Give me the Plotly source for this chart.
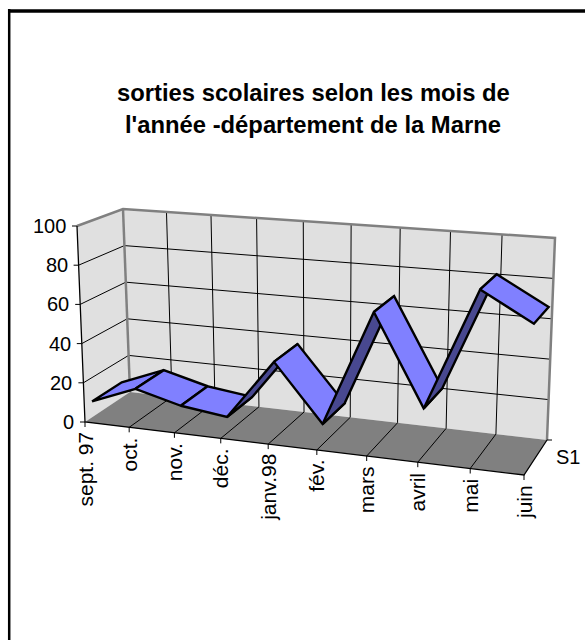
import plotly.graph_objects as go

categories = ["sept. 97", "oct.", "nov.", "déc.", "janv.98", "fév.", "mars", "avril", "mai", "juin"]
values = [8, 17, 11, 8, 38, 10, 67, 23, 82, 68]
value_ticks = [0, 20, 40, 60, 80, 100]
series_name = "S1"
title_lines = ["sorties scolaires selon les mois de", "l'année -département de la Marne"]

FONT = "Liberation Sans"
WALL = "#E0E0E0"
FLOOR = "#808080"
EDGE = "#808080"
LIGHT = "#8080FF"
DARK = "#484890"

# Screen corners of the 3D box: (front/back, bottom/top)
LFB = (85, 422); LFT = (77, 226); LBB = (130, 392); LBT = (123, 209)
RFB = (524, 475); RFT = (533, 259); RBB = (547, 440); RBT = (555, 238)
K = 1.117
D0, D1 = 0.17, 0.83
N = len(categories) - 1


def project(i, v, d):
    """category index i, value v (0-100), depth d (0 front - 1 back) to plot coordinates"""
    t = i / N
    s = t / (t + K * (1 - t)) if t > 0 else 0.0
    h = v / 100
    out = []
    for c in (0, 1):
        a = (LFB[c] * (1 - d) + LBB[c] * d) * (1 - h) + (LFT[c] * (1 - d) + LBT[c] * d) * h
        b = (RFB[c] * (1 - d) + RBB[c] * d) * (1 - h) + (RFT[c] * (1 - d) + RBT[c] * d) * h
        out.append(a * (1 - s) + b * s)
    return out


def path(points, close=False):
    pts = list(points) + ([points[0]] if close else [])
    return [p[0] for p in pts], [p[1] for p in pts]


fig = go.Figure()


def poly(points, fill, line=None, width=0):
    x, y = path(points, True)
    fig.add_trace(go.Scatter(x=x, y=y, mode="lines", fill="toself", fillcolor=fill,
                             line=dict(color=line or fill, width=width),
                             hoverinfo="skip", showlegend=False))


def lines(segments, color="#000000", width=1):
    x, y = [], []
    for seg in segments:
        x += [p[0] for p in seg] + [None]
        y += [p[1] for p in seg] + [None]
    fig.add_trace(go.Scatter(x=x, y=y, mode="lines", line=dict(color=color, width=width),
                             hoverinfo="skip", showlegend=False))


# Walls and floor
poly([LFB, LBB, LBT, LFT], WALL)
poly([LBB, RBB, RBT, LBT], WALL)
poly([LFB, RFB, RBB, LBB], FLOOR)

# Gridlines
lines([[project(0, v, 0), project(0, v, 1), project(N, v, 1)] for v in value_ticks[1:-1]])
lines([[project(i, 0, 1), project(i, 100, 1)] for i in range(1, N)])
lines([[project(i, 0, 0), project(i, 0, 1)] for i in range(1, N)])

# Wall edges
lines([[LFT, LBT, RBT, RBB], [LBT, LBB]], EDGE, 2.5)

# Axes
lines([[LFT, LFB, RFB, RBB]], "#000000", 1.3)
lines([[project(0, v, 0), (project(0, v, 0)[0] - 5, project(0, v, 0)[1])] for v in value_ticks])
lines([[project(i, 0, 0), (project(i, 0, 0)[0], project(i, 0, 0)[1] + 5)] for i in range(N + 1)])
lines([[RBB, (RBB[0] + 5, RBB[1])]])

# Ribbon, painted from left to right; the shaded face shows on rising segments
for i in range(N):
    a, b = project(i, values[i], D0), project(i + 1, values[i + 1], D0)
    c, d = project(i + 1, values[i + 1], D1), project(i, values[i], D1)
    cross = (b[0] - a[0]) * (d[1] - a[1]) - (b[1] - a[1]) * (d[0] - a[0])
    poly([a, b, c, d], DARK if cross > 0 else LIGHT, "#000000", 2.4)

ann = []


def label(x, y, text, size=20, bold=False, angle=0, xa="center", ya="middle"):
    ann.append(dict(x=x, y=y, xref="x", yref="y", text=f"<b>{text}</b>" if bold else text,
                    showarrow=False, textangle=angle, xanchor=xa, yanchor=ya,
                    font=dict(family=FONT, size=size, color="#000000")))


label(313, 92, title_lines[0], 23.8, True)
label(313, 124, title_lines[1], 23.8, True)
for v in value_ticks:
    p = project(0, v, 0)
    label(p[0] - 9, p[1], str(v), xa="right")
for i, name in enumerate(categories):
    p = project(i, 0, 0)
    label(p[0], p[1] + 8, name, size=21, angle=-90, ya="top")
label(568, 457, series_name)

fig.update_layout(
    width=585, height=640, margin=dict(l=0, r=0, t=0, b=0),
    paper_bgcolor="#FFFFFF", plot_bgcolor="#FFFFFF", showlegend=False,
    xaxis=dict(range=[0, 585], visible=False, fixedrange=True),
    yaxis=dict(range=[640, 0], visible=False, fixedrange=True),
    annotations=ann,
    shapes=[
        dict(type="line", xref="x", yref="y", x0=9.2, x1=9.2, y0=9, y1=640, line=dict(color="#000000", width=2.5)),
        dict(type="line", xref="x", yref="y", x0=8, x1=585, y0=11, y1=11, line=dict(color="#000000", width=3.5)),
    ],
)
fig.write_html("out.html", config={"displayModeBar": False},
               post_script="document.body.style.margin='0';")
